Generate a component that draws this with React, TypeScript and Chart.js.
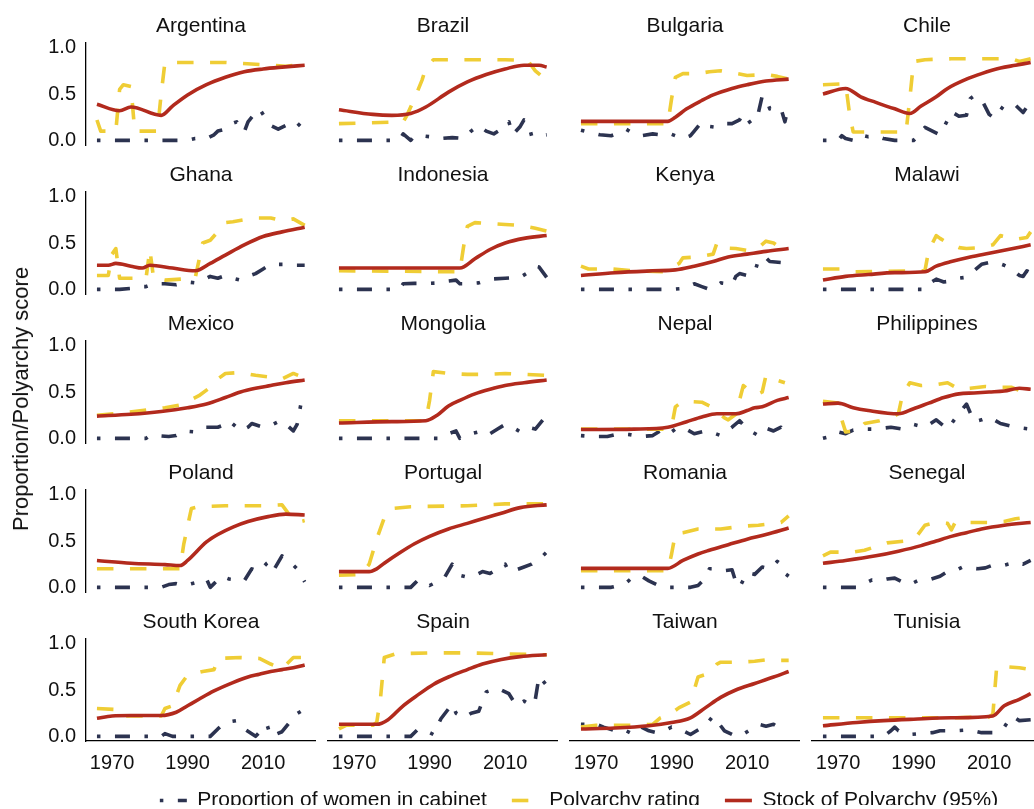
import React, { useEffect, useRef } from 'react';
import { Chart, registerables } from 'chart.js';

Chart.register(...registerables);

type Pt = [number, number];

// ---------------- DATA (year, value) ----------------
const argentinaWomen: Pt[] = [[1966,0],[1975,0],[1983,0],[1990,0],[1992,0.02],[1995,0.02],[1997,0.06],[1998,0.1],[2000,0.12],[2001,0.17],[2003,0.2],[2004,0.12],[2005,0.09],[2006,0.2],[2008,0.3],[2009,0.34],[2010,0.28],[2012,0.16],[2014,0.12],[2016,0.16],[2017,0.12],[2019,0.15],[2020,0.19],[2021,0.15]];
const argentinaPolyarchy: Pt[] = [[1966,0.22],[1967,0.1],[1971,0.1],[1972,0.55],[1973,0.6],[1975,0.58],[1976,0.1],[1982,0.1],[1983,0.5],[1984,0.84],[1995,0.84],[2000,0.84],[2004,0.83],[2008,0.82],[2012,0.81],[2016,0.8],[2019,0.81],[2021,0.83]];
const argentinaStock: Pt[] = [[1966,0.39],[1972,0.32],[1975,0.36],[1983,0.27],[1986,0.37],[1990,0.49],[1995,0.6],[2000,0.68],[2005,0.74],[2010,0.77],[2015,0.79],[2021,0.81]];

const brazilWomen: Pt[] = [[1966,0],[1982,0],[1983,0.07],[1985,0.0],[1986,0.05],[1988,0.05],[1990,0.04],[1993,0.02],[1996,0.03],[1999,0.02],[2001,0.1],[2003,0.16],[2005,0.1],[2007,0.07],[2009,0.12],[2011,0.2],[2012,0.06],[2014,0.15],[2015,0.22],[2016,0.2],[2017,0.05],[2019,0.05],[2021,0.06]];
const brazilPolyarchy: Pt[] = [[1966,0.18],[1983,0.2],[1984,0.27],[1986,0.45],[1988,0.65],[1989,0.78],[1991,0.87],[2000,0.87],[2010,0.87],[2016,0.86],[2018,0.75],[2020,0.68],[2021,0.66]];
const brazilStock: Pt[] = [[1966,0.33],[1975,0.28],[1980,0.27],[1985,0.29],[1989,0.36],[1995,0.52],[2000,0.63],[2005,0.71],[2010,0.77],[2015,0.81],[2019,0.81],[2021,0.79]];

const bulgariaWomen: Pt[] = [[1966,0.11],[1968,0.09],[1971,0.06],[1974,0.05],[1976,0.08],[1978,0.12],[1980,0.07],[1982,0.05],[1985,0.07],[1987,0.06],[1989,0.08],[1991,0.05],[1993,0.02],[1995,0.05],[1996,0.1],[1998,0.2],[2000,0.15],[2002,0.14],[2004,0.18],[2006,0.18],[2008,0.22],[2009,0.29],[2011,0.18],[2013,0.3],[2014,0.48],[2015,0.45],[2016,0.34],[2018,0.36],[2019,0.34],[2020,0.2],[2021,0.38]];
const bulgariaPolyarchy: Pt[] = [[1966,0.18],[1989,0.18],[1990,0.45],[1991,0.68],[1993,0.72],[1997,0.72],[2000,0.74],[2003,0.75],[2006,0.73],[2010,0.7],[2015,0.71],[2018,0.69],[2021,0.66]];
const bulgariaStock: Pt[] = [[1966,0.205],[1989,0.205],[1991,0.25],[1994,0.34],[1998,0.43],[2001,0.49],[2006,0.56],[2010,0.6],[2015,0.64],[2021,0.66]];

const chileWomen: Pt[] = [[1966,0],[1970,0],[1971,0.05],[1972,0.02],[1974,0.0],[1976,0.06],[1978,0.04],[1980,0.05],[1982,0.02],[1985,0.0],[1990,0.0],[1992,0.08],[1993,0.14],[1995,0.1],[1997,0.06],[1999,0.22],[2000,0.31],[2002,0.26],[2004,0.27],[2005,0.45],[2006,0.48],[2008,0.44],[2010,0.28],[2011,0.25],[2013,0.36],[2014,0.33],[2016,0.38],[2017,0.38],[2019,0.3],[2020,0.36],[2021,0.28]];
const chilePolyarchy: Pt[] = [[1966,0.6],[1972,0.61],[1973,0.3],[1974,0.09],[1988,0.09],[1989,0.45],[1990,0.85],[1993,0.87],[2000,0.88],[2010,0.88],[2016,0.88],[2018,0.85],[2021,0.88]];
const chileStock: Pt[] = [[1966,0.5],[1972,0.56],[1976,0.47],[1980,0.41],[1985,0.34],[1989,0.29],[1992,0.37],[1996,0.47],[1999,0.56],[2004,0.66],[2008,0.72],[2013,0.78],[2017,0.81],[2021,0.84]];

const ghanaWomen: Pt[] = [[1966,0],[1972,0],[1975,0.01],[1977,0.03],[1979,0.03],[1981,0.06],[1984,0.06],[1987,0.05],[1990,0.08],[1992,0.07],[1994,0.1],[1996,0.14],[1998,0.12],[2000,0.15],[2002,0.12],[2004,0.1],[2006,0.14],[2008,0.17],[2010,0.22],[2012,0.27],[2014,0.27],[2016,0.27],[2018,0.26],[2021,0.26]];
const ghanaPolyarchy: Pt[] = [[1966,0.15],[1969,0.15],[1970,0.38],[1971,0.44],[1972,0.12],[1979,0.12],[1980,0.43],[1981,0.12],[1984,0.1],[1992,0.12],[1993,0.31],[1994,0.5],[1996,0.53],[1998,0.62],[2000,0.72],[2002,0.73],[2008,0.77],[2012,0.77],[2015,0.74],[2018,0.76],[2021,0.69]];
const ghanaStock: Pt[] = [[1966,0.26],[1969,0.26],[1971,0.28],[1975,0.25],[1978,0.23],[1980,0.26],[1986,0.23],[1992,0.2],[1996,0.28],[2000,0.37],[2005,0.48],[2010,0.57],[2015,0.62],[2021,0.67]];

const indonesiaWomen: Pt[] = [[1966,0],[1982,0],[1983,0.06],[1986,0.065],[1990,0.065],[1993,0.07],[1995,0.09],[1997,0.1],[1998,0.06],[2000,0.06],[2003,0.07],[2006,0.11],[2010,0.12],[2014,0.13],[2016,0.18],[2018,0.25],[2019,0.24],[2021,0.13]];
const indonesiaPolyarchy: Pt[] = [[1966,0.2],[1998,0.19],[1999,0.46],[2000,0.68],[2002,0.72],[2006,0.71],[2010,0.7],[2014,0.69],[2018,0.66],[2021,0.63]];
const indonesiaStock: Pt[] = [[1966,0.23],[1980,0.23],[1990,0.23],[1998,0.23],[2002,0.33],[2006,0.43],[2010,0.5],[2015,0.55],[2021,0.58]];

const kenyaWomen: Pt[] = [[1966,0],[1990,0],[1993,0.01],[1996,0.06],[1998,0.03],[2000,0],[2002,0.04],[2003,0.07],[2005,0.06],[2006,0.05],[2007,0.14],[2008,0.17],[2010,0.15],[2012,0.18],[2013,0.32],[2014,0.35],[2015,0.34],[2016,0.3],[2019,0.29],[2021,0.27]];
const kenyaPolyarchy: Pt[] = [[1966,0.25],[1968,0.22],[1974,0.22],[1980,0.2],[1988,0.19],[1992,0.28],[1993,0.34],[1997,0.35],[2001,0.38],[2002,0.5],[2003,0.45],[2007,0.44],[2010,0.42],[2013,0.45],[2015,0.52],[2017,0.5],[2019,0.44],[2021,0.44]];
const kenyaStock: Pt[] = [[1966,0.15],[1975,0.18],[1985,0.2],[1991,0.21],[1996,0.25],[2001,0.3],[2005,0.35],[2010,0.38],[2015,0.41],[2021,0.44]];

const malawiWomen: Pt[] = [[1966,0],[1993,0],[1994,0.06],[1996,0.11],[1998,0.08],[2000,0.09],[2002,0.12],[2004,0.13],[2006,0.2],[2008,0.27],[2010,0.29],[2012,0.29],[2014,0.26],[2016,0.22],[2018,0.15],[2019,0.14],[2020,0.2],[2021,0.18]];
const malawiPolyarchy: Pt[] = [[1966,0.22],[1971,0.22],[1974,0.19],[1993,0.2],[1994,0.42],[1996,0.58],[1997,0.55],[1999,0.5],[2002,0.45],[2004,0.44],[2008,0.45],[2011,0.48],[2013,0.58],[2015,0.56],[2017,0.54],[2020,0.56],[2021,0.62]];
const malawiStock: Pt[] = [[1966,0.1],[1972,0.14],[1978,0.16],[1985,0.18],[1993,0.19],[1996,0.25],[2000,0.3],[2005,0.35],[2010,0.39],[2015,0.43],[2021,0.48]];

const mexicoWomen: Pt[] = [[1966,0],[1975,0],[1979,0.0],[1980,0.03],[1982,0.03],[1985,0.02],[1987,0.03],[1989,0.08],[1992,0.07],[1994,0.12],[1998,0.12],[2000,0.15],[2001,0.19],[2003,0.12],[2004,0.08],[2006,0.12],[2007,0.16],[2010,0.12],[2012,0.14],[2014,0.18],[2015,0.19],[2018,0.08],[2019,0.15],[2020,0.37],[2021,0.35]];
const mexicoPolyarchy: Pt[] = [[1966,0.25],[1972,0.27],[1978,0.3],[1984,0.33],[1988,0.36],[1991,0.42],[1993,0.46],[1996,0.55],[1998,0.64],[2000,0.7],[2004,0.71],[2008,0.68],[2012,0.66],[2015,0.64],[2018,0.7],[2021,0.65]];
const mexicoStock: Pt[] = [[1966,0.24],[1975,0.26],[1983,0.29],[1990,0.33],[1995,0.37],[2000,0.44],[2004,0.5],[2008,0.54],[2012,0.57],[2016,0.6],[2021,0.63]];

const mongoliaWomen: Pt[] = [[1966,0],[1990,0],[1993,0.0],[1995,0.05],[1997,0.08],[1998,0.0],[2000,0.02],[2001,0.05],[2003,0.07],[2004,0.09],[2006,0.05],[2008,0.1],[2010,0.15],[2012,0.12],[2014,0.07],[2016,0.12],[2018,0.1],[2020,0.2],[2021,0.25]];
const mongoliaPolyarchy: Pt[] = [[1966,0.19],[1989,0.19],[1990,0.41],[1991,0.72],[1995,0.7],[2000,0.69],[2005,0.69],[2010,0.7],[2015,0.69],[2021,0.68]];
const mongoliaStock: Pt[] = [[1966,0.165],[1980,0.18],[1989,0.19],[1992,0.25],[1995,0.35],[1998,0.41],[2002,0.48],[2006,0.53],[2010,0.57],[2015,0.6],[2021,0.63]];

const nepalWomen: Pt[] = [[1966,0.03],[1969,0.02],[1973,0.02],[1976,0.05],[1979,0.04],[1982,0.02],[1985,0.03],[1987,0.08],[1989,0.04],[1991,0.1],[1993,0.12],[1996,0.05],[1999,0.08],[2001,0.06],[2003,0.03],[2006,0.12],[2008,0.19],[2010,0.1],[2013,0.03],[2015,0.11],[2017,0.08],[2019,0.12],[2021,0.03]];
const nepalPolyarchy: Pt[] = [[1966,0.1],[1989,0.1],[1990,0.12],[1991,0.34],[1993,0.4],[1998,0.39],[2000,0.35],[2004,0.22],[2005,0.2],[2007,0.26],[2009,0.57],[2011,0.5],[2013,0.48],[2014,0.5],[2015,0.68],[2017,0.64],[2020,0.6]];
const nepalStock: Pt[] = [[1966,0.095],[1980,0.1],[1989,0.12],[1994,0.18],[1998,0.23],[2002,0.265],[2007,0.265],[2010,0.3],[2012,0.33],[2014,0.34],[2018,0.41],[2021,0.44]];

const philippinesWomen: Pt[] = [[1966,0],[1968,0.02],[1970,0.07],[1972,0.05],[1974,0.09],[1977,0.1],[1980,0.1],[1984,0.12],[1987,0.1],[1990,0.15],[1993,0.12],[1996,0.2],[1999,0.1],[2002,0.27],[2004,0.37],[2006,0.18],[2008,0.2],[2010,0.23],[2013,0.16],[2016,0.13],[2019,0.11],[2021,0.1]];
const philippinesPolyarchy: Pt[] = [[1966,0.4],[1970,0.38],[1971,0.2],[1972,0.07],[1975,0.08],[1977,0.16],[1981,0.19],[1985,0.24],[1986,0.27],[1987,0.46],[1989,0.6],[1992,0.57],[1996,0.58],[1999,0.6],[2002,0.53],[2005,0.54],[2009,0.56],[2013,0.55],[2016,0.55],[2019,0.5],[2021,0.45]];
const philippinesStock: Pt[] = [[1966,0.37],[1970,0.38],[1974,0.33],[1978,0.3],[1986,0.265],[1990,0.32],[1994,0.38],[1998,0.44],[2002,0.48],[2006,0.49],[2010,0.5],[2014,0.51],[2018,0.54],[2021,0.53]];

const polandWomen: Pt[] = [[1966,0],[1983,0],[1985,0.03],[1987,0.04],[1989,0.02],[1991,0.04],[1993,0.06],[1995,0.09],[1996,0.0],[1997,0.04],[1999,0.12],[2001,0.09],[2003,0.08],[2005,0.07],[2007,0.2],[2009,0.17],[2011,0.26],[2012,0.29],[2013,0.2],[2015,0.34],[2016,0.3],[2018,0.24],[2019,0.2],[2021,0.06]];
const polandPolyarchy: Pt[] = [[1966,0.2],[1988,0.2],[1989,0.47],[1991,0.85],[1993,0.87],[2000,0.88],[2010,0.88],[2015,0.89],[2017,0.78],[2019,0.7],[2021,0.72]];
const polandStock: Pt[] = [[1966,0.29],[1975,0.26],[1984,0.245],[1988,0.235],[1990,0.29],[1995,0.49],[1998,0.57],[2002,0.65],[2006,0.71],[2011,0.76],[2016,0.79],[2021,0.78]];

const portugalWomen: Pt[] = [[1966,0],[1985,0],[1986,0.04],[1987,0.08],[1989,0.05],[1990,0.02],[1992,0.06],[1994,0.11],[1996,0.25],[1997,0.2],[1998,0.13],[2000,0.11],[2002,0.13],[2004,0.17],[2006,0.15],[2008,0.2],[2010,0.25],[2011,0.17],[2013,0.19],[2015,0.22],[2017,0.25],[2019,0.3],[2021,0.38]];
const portugalPolyarchy: Pt[] = [[1966,0.13],[1972,0.14],[1974,0.25],[1976,0.52],[1978,0.75],[1980,0.85],[1985,0.87],[2000,0.88],[2010,0.9],[2021,0.9]];
const portugalStock: Pt[] = [[1966,0.17],[1974,0.17],[1976,0.2],[1978,0.26],[1982,0.37],[1986,0.47],[1990,0.55],[1995,0.63],[2000,0.69],[2004,0.74],[2009,0.8],[2014,0.86],[2021,0.89]];

const romaniaWomen: Pt[] = [[1966,0],[1974,0],[1976,0.02],[1978,0.05],[1980,0.12],[1982,0.12],[1984,0.07],[1986,0.03],[1988,0.0],[1995,0.0],[1997,0.02],[1999,0.1],[2000,0.2],[2002,0.2],[2004,0.18],[2006,0.19],[2007,0.06],[2008,0.0],[2010,0.16],[2012,0.14],[2014,0.22],[2016,0.2],[2018,0.28],[2019,0.25],[2020,0.15],[2021,0.12]];
const romaniaPolyarchy: Pt[] = [[1966,0.18],[1989,0.18],[1990,0.36],[1991,0.58],[1993,0.59],[1997,0.63],[2003,0.63],[2009,0.66],[2013,0.67],[2017,0.69],[2019,0.7],[2021,0.77]];
const romaniaStock: Pt[] = [[1966,0.205],[1989,0.205],[1993,0.29],[1997,0.36],[2000,0.4],[2005,0.46],[2010,0.52],[2015,0.57],[2021,0.64]];

const senegalWomen: Pt[] = [[1966,0],[1975,0],[1977,0.04],[1979,0.08],[1981,0.07],[1983,0.09],[1985,0.1],[1987,0.06],[1989,0.03],[1991,0.07],[1994,0.08],[1997,0.12],[1999,0.17],[2001,0.18],[2003,0.22],[2005,0.21],[2007,0.2],[2009,0.21],[2011,0.24],[2014,0.24],[2017,0.27],[2019,0.25],[2021,0.29]];
const senegalPolyarchy: Pt[] = [[1966,0.34],[1968,0.38],[1970,0.38],[1974,0.38],[1977,0.4],[1980,0.44],[1983,0.48],[1988,0.5],[1991,0.56],[1993,0.67],[1996,0.7],[1999,0.69],[2000,0.62],[2001,0.7],[2005,0.7],[2010,0.7],[2014,0.71],[2017,0.74],[2021,0.76]];
const senegalStock: Pt[] = [[1966,0.26],[1972,0.29],[1980,0.34],[1986,0.39],[1992,0.45],[1996,0.5],[2000,0.55],[2004,0.59],[2008,0.63],[2014,0.67],[2021,0.7]];

const southKoreaWomen: Pt[] = [[1966,0],[1983,0],[1984,0.03],[1986,0.0],[1996,0.0],[1998,0.08],[2000,0.15],[2003,0.17],[2005,0.08],[2008,0.0],[2011,0.13],[2012,0.0],[2015,0.05],[2017,0.15],[2018,0.22],[2020,0.27],[2021,0.3]];
const southKoreaPolyarchy: Pt[] = [[1966,0.3],[1971,0.29],[1972,0.22],[1983,0.22],[1984,0.3],[1986,0.33],[1988,0.55],[1990,0.66],[1994,0.7],[1997,0.72],[1998,0.84],[2004,0.85],[2009,0.84],[2012,0.78],[2015,0.73],[2018,0.85],[2021,0.85]];
const southKoreaStock: Pt[] = [[1966,0.195],[1970,0.22],[1975,0.225],[1983,0.225],[1987,0.26],[1990,0.33],[1993,0.4],[1997,0.49],[2002,0.58],[2006,0.64],[2009,0.67],[2012,0.7],[2015,0.72],[2018,0.74],[2021,0.77]];

const spainWomen: Pt[] = [[1966,0],[1982,0],[1985,0.0],[1987,0.08],[1989,0.06],[1991,0.02],[1993,0.19],[1996,0.35],[1997,0.25],[1999,0.2],[2001,0.25],[2003,0.27],[2005,0.48],[2008,0.52],[2011,0.46],[2013,0.33],[2015,0.38],[2017,0.33],[2018,0.4],[2019,0.65],[2021,0.55]];
const spainPolyarchy: Pt[] = [[1966,0.08],[1968,0.12],[1975,0.12],[1976,0.15],[1977,0.41],[1978,0.85],[1981,0.89],[1990,0.9],[2000,0.9],[2010,0.89],[2021,0.88]];
const spainStock: Pt[] = [[1966,0.13],[1976,0.13],[1979,0.18],[1983,0.33],[1987,0.45],[1991,0.56],[1995,0.64],[2000,0.72],[2004,0.78],[2009,0.83],[2014,0.86],[2021,0.88]];

const taiwanWomen: Pt[] = [[1966,0.13],[1970,0.13],[1972,0.1],[1975,0.06],[1977,0.08],[1980,0.02],[1982,0.1],[1984,0.06],[1986,0.04],[1988,0.06],[1990,0.1],[1993,0.06],[1995,0.02],[1999,0.12],[2001,0.22],[2004,0.06],[2006,0.02],[2008,0.0],[2010,0.05],[2013,0.13],[2015,0.11],[2017,0.13],[2019,0.08],[2020,0.06]];
const taiwanPolyarchy: Pt[] = [[1966,0.1],[1970,0.12],[1980,0.12],[1985,0.13],[1987,0.2],[1990,0.25],[1992,0.31],[1995,0.37],[1996,0.5],[1997,0.64],[2000,0.68],[2002,0.78],[2003,0.8],[2008,0.8],[2012,0.81],[2016,0.83],[2019,0.82],[2021,0.82]];
const taiwanStock: Pt[] = [[1966,0.08],[1975,0.09],[1984,0.115],[1990,0.15],[1995,0.2],[1999,0.31],[2003,0.42],[2007,0.5],[2012,0.57],[2017,0.64],[2021,0.7]];

const tunisiaWomen: Pt[] = [[1966,0],[1982,0],[1984,0.06],[1985,0.1],[1986,0.06],[1989,0.02],[1995,0.04],[1997,0.06],[2001,0.06],[2005,0.07],[2008,0.04],[2012,0.04],[2014,0.1],[2016,0.22],[2018,0.17],[2021,0.18]];
const tunisiaPolyarchy: Pt[] = [[1966,0.2],[1980,0.2],[1990,0.2],[2000,0.2],[2010,0.21],[2011,0.24],[2012,0.75],[2015,0.75],[2018,0.74],[2021,0.72]];
const tunisiaStock: Pt[] = [[1966,0.115],[1975,0.15],[1982,0.17],[1990,0.185],[2000,0.2],[2011,0.22],[2014,0.33],[2018,0.4],[2021,0.46]];

const COUNTRY_NAMES = ['Argentina', 'Brazil', 'Bulgaria', 'Chile', 'Ghana', 'Indonesia', 'Kenya', 'Malawi', 'Mexico', 'Mongolia', 'Nepal', 'Philippines', 'Poland', 'Portugal', 'Romania', 'Senegal', 'South Korea', 'Spain', 'Taiwan', 'Tunisia'];
const WOMEN_SERIES = [argentinaWomen, brazilWomen, bulgariaWomen, chileWomen, ghanaWomen, indonesiaWomen, kenyaWomen, malawiWomen, mexicoWomen, mongoliaWomen, nepalWomen, philippinesWomen, polandWomen, portugalWomen, romaniaWomen, senegalWomen, southKoreaWomen, spainWomen, taiwanWomen, tunisiaWomen];
const POLYARCHY_SERIES = [argentinaPolyarchy, brazilPolyarchy, bulgariaPolyarchy, chilePolyarchy, ghanaPolyarchy, indonesiaPolyarchy, kenyaPolyarchy, malawiPolyarchy, mexicoPolyarchy, mongoliaPolyarchy, nepalPolyarchy, philippinesPolyarchy, polandPolyarchy, portugalPolyarchy, romaniaPolyarchy, senegalPolyarchy, southKoreaPolyarchy, spainPolyarchy, taiwanPolyarchy, tunisiaPolyarchy];
const STOCK_SERIES = [argentinaStock, brazilStock, bulgariaStock, chileStock, ghanaStock, indonesiaStock, kenyaStock, malawiStock, mexicoStock, mongoliaStock, nepalStock, philippinesStock, polandStock, portugalStock, romaniaStock, senegalStock, southKoreaStock, spainStock, taiwanStock, tunisiaStock];

const X_TICKS = [1970, 1990, 2010];
const Y_TICKS = [0, 0.5, 1.0];
const SERIES_LABELS = ['Proportion of women in cabinet', 'Polyarchy rating', 'Stock of Polyarchy (95%)'];
const Y_TITLE = 'Proportion/Polyarchy score';

// ---------------- STYLE / LAYOUT ----------------
const FONT = "'Liberation Sans', Arial, Helvetica, sans-serif";
const TEXT_COLOR = '#111111';
const C_WOMEN = '#2c3350';
const C_POLY = '#efcd35';
const C_STOCK = '#b22a1d';
const DASH_WOMEN = [3.5, 14.5, 15, 14.5];
const DASH_POLY = [16.5, 16.5];
const LINE_W = 3.6;

const NCOL = 4;
const PLOT_LEFT = [86, 328, 570, 812];
const PLOT_W = 230;
const PLOT_TOP0 = 43;
const ROW_STEP = 149;
const PLOT_H = 102;
const TITLE_H = 32;
const TITLE_PAD_TOP = 3;
const PAD_B = 16;
const PAD_L = 10;
const XAXIS_H = 40;
const YAXIS_W = 86;
const TICK_GAP = 10;
const X_MIN = 1963.1;
const X_MAX = 2024.0;
const Y_MIN = -0.05;
const Y_MAX = 1.05;

const toXY = (pts: Pt[]) => pts.map(([x, y]) => ({ x, y }));

function Panel({ index }: { index: number }) {
  const ref = useRef<HTMLCanvasElement | null>(null);
  const nRows = Math.ceil(COUNTRY_NAMES.length / NCOL);
  const col = index % NCOL;
  const row = Math.floor(index / NCOL);
  const isLeft = col === 0;
  const isBottom = row === nRows - 1;
  const padL = isLeft ? 0 : PAD_L;
  const left = isLeft ? PLOT_LEFT[0] - YAXIS_W : PLOT_LEFT[col] - padL;
  const width = (isLeft ? YAXIS_W : padL) + PLOT_W;
  const top = PLOT_TOP0 + row * ROW_STEP - TITLE_H;
  const height = TITLE_H + PLOT_H + (isBottom ? XAXIS_H : PAD_B);

  useEffect(() => {
    const canvas = ref.current;
    if (!canvas) return;
    const chart = new Chart(canvas, {
      type: 'line',
      data: {
        datasets: [
          {
            label: SERIES_LABELS[2],
            data: toXY(STOCK_SERIES[index]),
            borderColor: C_STOCK,
            backgroundColor: C_STOCK,
            borderWidth: LINE_W,
            cubicInterpolationMode: 'monotone',
            pointRadius: 0,
            fill: false,
            borderJoinStyle: 'round',
          },
          {
            label: SERIES_LABELS[1],
            data: toXY(POLYARCHY_SERIES[index]),
            borderColor: C_POLY,
            backgroundColor: C_POLY,
            borderWidth: LINE_W,
            borderDash: DASH_POLY,
            tension: 0,
            pointRadius: 0,
            fill: false,
            borderJoinStyle: 'round',
          },
          {
            label: SERIES_LABELS[0],
            data: toXY(WOMEN_SERIES[index]),
            borderColor: C_WOMEN,
            backgroundColor: C_WOMEN,
            borderWidth: LINE_W,
            borderDash: DASH_WOMEN,
            tension: 0,
            pointRadius: 0,
            fill: false,
            borderJoinStyle: 'round',
          },
        ],
      },
      options: {
        responsive: false,
        animation: false,
        events: [],
        layout: { padding: { top: 0, left: padL, right: 0, bottom: isBottom ? 0 : PAD_B } },
        plugins: {
          legend: { display: false },
          tooltip: { enabled: false },
          title: {
            display: true,
            text: COUNTRY_NAMES[index],
            fullSize: false,
            color: TEXT_COLOR,
            font: { family: FONT, size: 21, weight: 'normal', lineHeight: 1.2 },
            padding: { top: TITLE_PAD_TOP, bottom: TITLE_H - 25.2 - TITLE_PAD_TOP },
          },
        },
        scales: {
          x: {
            type: 'linear',
            min: X_MIN,
            max: X_MAX,
            display: isBottom,
            grid: { display: false, drawTicks: true, tickLength: TICK_GAP },
            border: { display: true, color: '#000000', width: 1.3 },
            ticks: {
              padding: 0,
              color: TEXT_COLOR,
              font: { family: FONT, size: 20 },
              maxRotation: 0,
              autoSkip: false,
              callback: (v: any) => String(v),
            },
            afterBuildTicks: (axis: any) => {
              axis.ticks = X_TICKS.map((value) => ({ value }));
            },
            afterFit: (axis: any) => {
              axis.height = isBottom ? XAXIS_H : 0;
            },
          },
          y: {
            type: 'linear',
            min: Y_MIN,
            max: Y_MAX,
            display: isLeft,
            grid: { display: false, drawTicks: true, tickLength: TICK_GAP },
            border: { display: true, color: '#000000', width: 1.3 },
            ticks: {
              padding: 0,
              color: TEXT_COLOR,
              font: { family: FONT, size: 20 },
              autoSkip: false,
              callback: (v: any) => Number(v).toFixed(1),
            },
            afterBuildTicks: (axis: any) => {
              axis.ticks = Y_TICKS.map((value) => ({ value }));
            },
            afterFit: (axis: any) => {
              axis.width = isLeft ? YAXIS_W : 0;
            },
          },
        },
      } as any,
    });
    return () => chart.destroy();
  }, [index]);

  return (
    <canvas
      ref={ref}
      width={width}
      height={height}
      style={{ position: 'absolute', left, top, width, height }}
    />
  );
}

const LEGEND_LEFT = 79;
const LEGEND_W = 1000;
const LEGEND_TOP = 765;
const LEGEND_H = 80;

function Legend() {
  const ref = useRef<HTMLCanvasElement | null>(null);
  useEffect(() => {
    const canvas = ref.current;
    if (!canvas) return;
    const colors = [C_WOMEN, C_POLY, C_STOCK];
    const dashes = [DASH_WOMEN, DASH_POLY, []];
    const chart = new Chart(canvas, {
      type: 'line',
      data: {
        datasets: SERIES_LABELS.map((label, i) => ({
          label,
          data: [],
          borderColor: colors[i],
          borderDash: dashes[i],
          borderWidth: LINE_W,
        })),
      },
      options: {
        responsive: false,
        animation: false,
        events: [],
        layout: { padding: 0 },
        scales: { x: { display: false }, y: { display: false } },
        plugins: {
          tooltip: { enabled: false },
          title: { display: false },
          legend: {
            display: true,
            position: 'top',
            align: 'center',
            labels: {
              usePointStyle: true,
              pointStyle: 'line',
              pointStyleWidth: 27,
              padding: 25,
              color: TEXT_COLOR,
              font: { family: FONT, size: 21 },
              generateLabels: () =>
                SERIES_LABELS.map((text, i) => ({
                  text,
                  datasetIndex: i,
                  hidden: false,
                  fillStyle: colors[i],
                  strokeStyle: colors[i],
                  fontColor: TEXT_COLOR,
                  lineWidth: LINE_W,
                  lineDash: dashes[i],
                  lineDashOffset: 0,
                  lineCap: 'butt',
                  lineJoin: 'round',
                  pointStyle: 'line',
                  rotation: 0,
                })),
            },
          },
        },
      } as any,
    });
    return () => chart.destroy();
  }, []);
  return (
    <canvas
      ref={ref}
      width={LEGEND_W}
      height={LEGEND_H}
      style={{ position: 'absolute', left: LEGEND_LEFT, top: LEGEND_TOP, width: LEGEND_W, height: LEGEND_H }}
    />
  );
}

export default function App() {
  return (
    <div
      style={{
        position: 'absolute',
        left: 0,
        top: 0,
        width: 1034,
        height: 809,
        overflow: 'hidden',
        background: '#ffffff',
      }}
    >
      {COUNTRY_NAMES.map((name, i) => (
        <Panel key={name} index={i} />
      ))}
      <div
        style={{
          position: 'absolute',
          left: 21,
          top: 399,
          transform: 'translate(-50%, -50%) rotate(-90deg)',
          whiteSpace: 'nowrap',
          fontFamily: FONT,
          fontSize: 22,
          lineHeight: '26px',
          color: TEXT_COLOR,
        }}
      >
        {Y_TITLE}
      </div>
      <Legend />
    </div>
  );
}
